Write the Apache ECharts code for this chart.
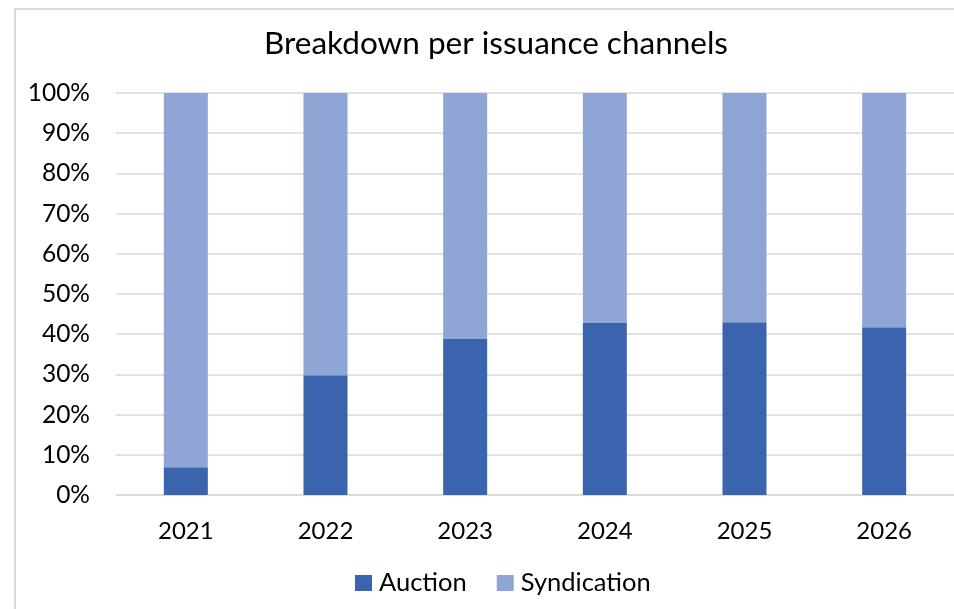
<!DOCTYPE html>
<html>
<head>
<meta charset="utf-8">
<title>Breakdown per issuance channels</title>
<script src="https://cdn.jsdelivr.net/npm/echarts@6/dist/echarts.min.js"></script>
<style>
  html, body { margin: 0; padding: 0; background: #ffffff; }
  #chart { width: 954px; height: 609px; }
</style>
</head>
<body>
<div id="chart"></div>
<script>
// Share of issuance by channel, percent of the annual total
const years = ['2021', '2022', '2023', '2024', '2025', '2026'];
const auction = [6.9, 29.8, 38.8, 42.8, 43.0, 41.7];
const syndication = [93.1, 70.2, 61.2, 57.2, 57.0, 58.3];
const seriesNames = ['Auction', 'Syndication'];
const seriesColors = ['#3A64AD', '#8FA5D6'];

const FONT = 'Lato, "Open Sans", sans-serif';

const chart = echarts.init(document.getElementById('chart'), null, { renderer: 'canvas' });

chart.setOption({
  animation: false,
  backgroundColor: '#ffffff',
  title: {
    text: 'Breakdown per issuance channels',
    left: 491,
    textAlign: 'center',
    top: 23,
    textStyle: { fontFamily: FONT, fontSize: 31.5, fontWeight: 'normal', color: '#000000' }
  },
  graphic: [{
    type: 'rect',
    silent: true,
    z: -10,
    shape: { x: 15, y: 9, width: 1000, height: 700 },
    style: { fill: 'none', stroke: '#d9d9d9', lineWidth: 2 }
  }],
  legend: {
    data: seriesNames,
    left: 350,
    top: 565,
    itemWidth: 17,
    itemHeight: 16,
    itemGap: 30,
    icon: 'rect',
    textStyle: { fontFamily: FONT, fontSize: 25.5, color: '#000000', padding: [0, 0, 0, 2] }
  },
  grid: { left: 116, top: 93, width: 840, height: 402, containLabel: false },
  xAxis: {
    type: 'category',
    data: years,
    axisLine: { show: true, lineStyle: { color: '#d9d9d9', width: 1.5 } },
    axisTick: { show: false },
    axisLabel: { margin: 24, fontFamily: FONT, fontSize: 24, color: '#000000' }
  },
  yAxis: {
    type: 'value',
    min: 0,
    max: 100,
    interval: 10,
    axisLine: { show: false },
    axisTick: { show: false },
    splitLine: { lineStyle: { color: '#d9d9d9', width: 1.5 } },
    axisLabel: { margin: 26, fontFamily: FONT, fontSize: 24.5, color: '#000000', formatter: '{value}%' }
  },
  series: [
    {
      name: seriesNames[0],
      type: 'bar',
      stack: 'share',
      data: auction,
      barWidth: 44,
      itemStyle: { color: seriesColors[0] }
    },
    {
      name: seriesNames[1],
      type: 'bar',
      stack: 'share',
      data: syndication,
      barWidth: 44,
      itemStyle: { color: seriesColors[1] }
    }
  ]
});
</script>
</body>
</html>
